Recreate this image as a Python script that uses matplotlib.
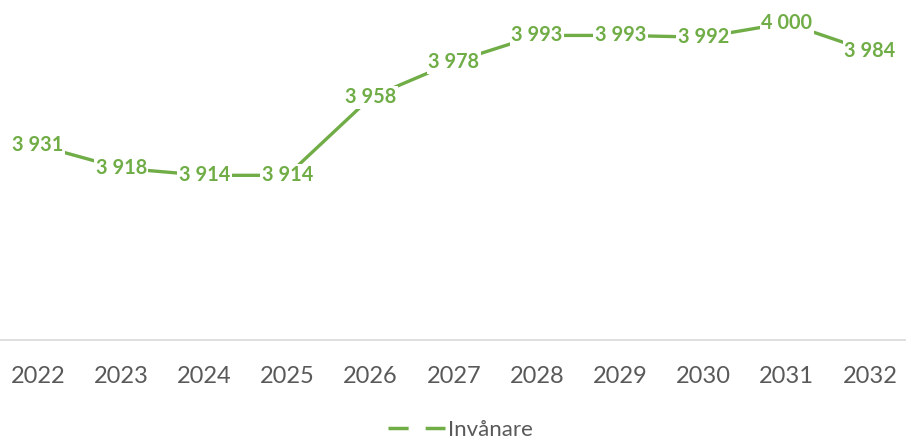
import matplotlib
matplotlib.use("Agg")
import matplotlib.pyplot as plt
from matplotlib.lines import Line2D

years = ["2022", "2023", "2024", "2025", "2026", "2027", "2028", "2029", "2030", "2031", "2032"]
invanare = [3931, 3918, 3914, 3914, 3958, 3978, 3993, 3993, 3992, 4000, 3984]
series_name = "Invånare"

GREEN = "#70AD47"
GREY_TEXT = "#595959"

plt.rcParams["font.family"] = ["Lato", "DejaVu Sans"]

fig = plt.figure(figsize=(9.06, 4.42), dpi=100)
ax = fig.add_axes([-0.004, 102 / 442, 1.01, 340 / 442])

x = list(range(len(years)))
ax.plot(x, invanare, color=GREEN, lw=2.4, solid_capstyle="butt", zorder=2)

for xi, v in zip(x, invanare):
    label = f"{v:,}".replace(",", " ")
    ax.text(xi, v, label, ha="center", va="center", color=GREEN,
            fontsize=14.3, fontweight="bold", zorder=3,
            bbox=dict(boxstyle="square,pad=0.08", fc="white", ec="none"))

ax.set_xlim(-0.5, len(years) - 0.5)
ax.set_ylim(3821, 4013)
ax.set_xticks(x)
ax.set_xticklabels(years, fontsize=17, color=GREY_TEXT)
ax.tick_params(axis="x", length=0, pad=19)
ax.set_yticks([])

for side in ("top", "left", "right"):
    ax.spines[side].set_visible(False)
ax.spines["bottom"].set_color("#D9D9D9")
ax.spines["bottom"].set_linewidth(1.2)

handle = Line2D([], [], color=GREEN, lw=2.5, linestyle=(0, (5.8, 4.9)))
fig.legend([handle], [series_name], loc="center",
           bbox_to_anchor=(460 / 906, 1 - 430 / 442), frameon=False,
           fontsize=16, labelcolor=GREY_TEXT, handlelength=2.6,
           handletextpad=0.1)

fig.savefig("out.png", dpi=100, facecolor="white")
